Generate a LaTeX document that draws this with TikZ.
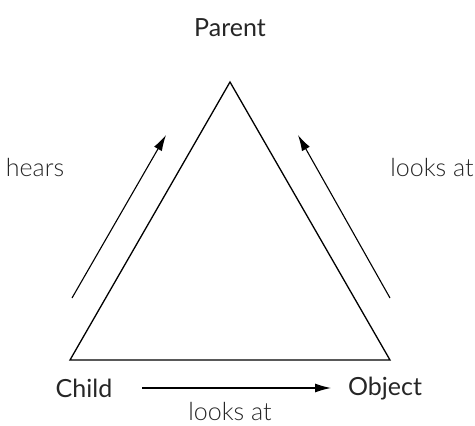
\documentclass[tikz,border=0pt]{standalone}
\usepackage{fontspec}
\setmainfont{Lato}
\newfontfamily\lightfont{Lato Light}
\usetikzlibrary{arrows.meta}
\begin{document}
\begin{tikzpicture}[x=1pt,y=-1pt,
  lbl/.style={font=\fontsize{25}{27}\selectfont, text=black!85, inner sep=0},
  lit/.style={font=\lightfont\fontsize{25}{27}\selectfont, text=black!85, inner sep=0},
  arr/.style={line width=1.1pt, -{Latex[length=16pt,width=9pt]}},
  tri/.style={line width=1.3pt, line join=miter}]
\useasboundingbox (0,0) rectangle (475,426);
\coordinate (A) at (230,82);
\coordinate (B) at (70,360);
\coordinate (C) at (390,360);
\draw[tri] (A) -- (B) -- (C) -- cycle;
\node[lbl] (parent) at (230,28) {Parent};
\node[lbl] (child) at (84,388) {Child};
\node[lbl] (object) at (385,389) {Object};
\node[lit] (hears) at (35,168) {hears};
\node[lit] (looksR) at (432,168) {looks at};
\node[lit] (looksB) at (230,412) {looks at};
\coordinate (l1) at (72,298);
\coordinate (l2) at (166,135);
\coordinate (r1) at (390,298);
\coordinate (r2) at (298,135);
\coordinate (b1) at (142,388);
\coordinate (b2) at (331,388);
\draw[arr] (l1) -- (l2);
\draw[arr] (r1) -- (r2);
\draw[arr] (b1) -- (b2);
\end{tikzpicture}
\end{document}
